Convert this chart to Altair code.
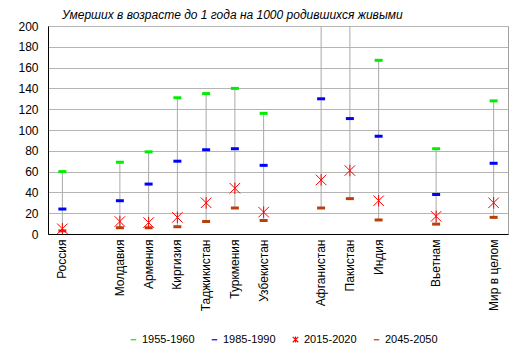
import altair as alt
import pandas as pd

categories = ["Россия", "Молдавия", "Армения", "Киргизия", "Таджикистан", "Туркмения",
              "Узбекистан", "Афганистан", "Пакистан", "Индия", "Вьетнам", "Мир в целом"]
# axis slots (blank slots are gaps between groups)
slots = ["Россия", " ", "Молдавия", "Армения", "Киргизия", "Таджикистан", "Туркмения",
         "Узбекистан", "  ", "Афганистан", "Пакистан", "Индия", "   ", "Вьетнам", "    ", "Мир в целом"]
periods = ["1955-1960", "1985-1990", "2015-2020", "2045-2050"]
yticks = [0, 20, 40, 60, 80, 100, 120, 140, 160, 180, 200]
v1955 = [60, 69, 79, 131, 135, 140, 116, 275, 230, 167, 82, 128]
v1985 = [24, 32, 48, 70, 81, 82, 66, 130, 111, 94, 38, 68]
v2015 = [5, 12, 11, 16, 30, 44, 21, 52, 61, 32, 17, 30]
v2045 = [3, 6, 6, 7, 12, 25, 13, 25, 34, 13.5, 9.5, 16]

rows = []
for i, c in enumerate(categories):
    for p, vals in [("1955-1960", v1955), ("1985-1990", v1985), ("2045-2050", v2045), ("2015-2020", v2015)]:
        rows.append({"cat": c, "period": p, "value": vals[i]})
df = pd.DataFrame(rows)

colors = ["#00EE00", "#0000FF", "#FF0000", "#B8400C"]
dash = "M-1,0L1,0"
star = "M-1,-1L1,1M-1,1L1,-1M0,-1.1L0,1.1"

xenc = alt.X("cat:N", scale=alt.Scale(domain=slots, paddingInner=0, paddingOuter=0),
             axis=alt.Axis(title=None, labelAngle=-90, ticks=False, labelPadding=5,
                           labelFont="Liberation Sans", labelFontSize=12, labelColor="#000000",
                           domainColor="#000000", labelAlign="right", labelBaseline="middle"))
yscale = alt.Scale(domain=[0, 200], nice=False)
yaxis = alt.Axis(title=None, values=yticks, ticks=False, labelPadding=10,
                 labelOverlap=False, labelSeparation=0, labelFlush=False,
                 labelFont="Liberation Sans", labelFontSize=12, labelColor="#000000",
                 domainColor="#000000", gridColor="#B4B4B4", grid=True)

colorenc = alt.Color("period:N", scale=alt.Scale(domain=periods, range=colors),
                     legend=alt.Legend(title=None, orient="none", direction="horizontal",
                                       legendX=80, legendY=308, columnPadding=14,
                                       labelFont="Liberation Sans", labelFontSize=11,
                                       labelColor="#000000", symbolSize=30, symbolStrokeWidth=1.2,
                                       labelOffset=3))
shapeenc = alt.Shape("period:N", scale=alt.Scale(domain=periods, range=[dash, dash, star, dash]))

base = alt.Chart(df)

rng = base.mark_rule(color="#AAAAAA", strokeWidth=1, clip=True).encode(
    x=xenc,
    y=alt.Y("min(value):Q", scale=yscale, axis=yaxis),
    y2="max(value):Q",
)

dashes = base.transform_filter(alt.datum.period != "2015-2020").mark_point(
    filled=False, clip=True, opacity=1, size=64, strokeWidth=3).encode(
    x=xenc,
    y=alt.Y("value:Q", scale=yscale, axis=yaxis),
    color=colorenc,
    shape=shapeenc,
)

stars = base.transform_filter(alt.datum.period == "2015-2020").mark_point(
    filled=False, clip=True, opacity=1, size=110, strokeWidth=1).encode(
    x=xenc,
    y=alt.Y("value:Q", scale=yscale, axis=yaxis),
    color=colorenc,
    shape=shapeenc,
)

chart = (rng + dashes + stars).properties(
    width=460, height=208,
    title=alt.Title("Умерших в возрасте до 1 года на 1000 родившихся живыми",
                    font="Liberation Sans", fontSize=12, fontStyle="italic", fontWeight="normal",
                    color="#000000", anchor="start", dx=14, dy=7, offset=5, frame="group"),
    autosize=alt.AutoSizeParams(type="none"),
    padding={"left": 40, "top": 18, "right": 4, "bottom": 116},
).configure_view(stroke="#A0A0A0", strokeWidth=1).configure_axisY(labelOverlap=False)

chart.save("out.html", embed_options={"renderer": "svg", "actions": False})
